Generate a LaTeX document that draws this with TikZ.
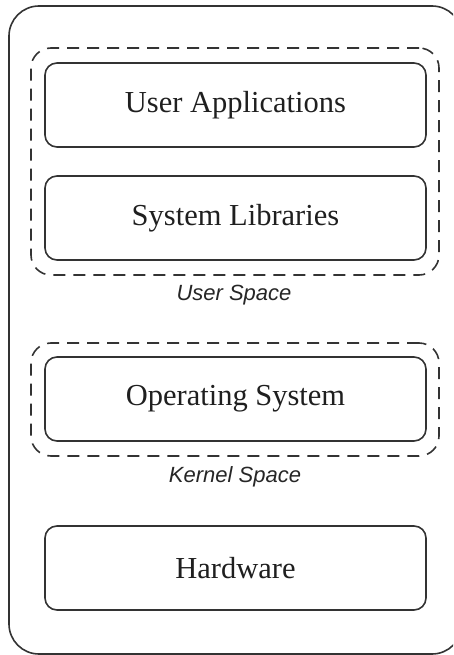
\documentclass[tikz,border=0pt]{standalone}
\usepackage{fontspec}
\setmainfont{Liberation Serif}
\newfontfamily\labelfont{Liberation Sans}
\begin{document}
\begin{tikzpicture}[x=1pt,y=-1pt,
  line color/.style={draw=black!80},
  layerbox/.style={line color, line width=1.6pt, rounded corners=12pt,
    minimum width=381pt, minimum height=84pt, inner sep=0pt,
    text=black!88, font=\fontsize{30.5}{36}\selectfont},
  spacebox/.style={line color, line width=1.6pt, dash pattern=on 12pt off 8pt,
    rounded corners=20pt, inner sep=0pt},
  spacelabel/.style={text=black!85, font=\labelfont\itshape\fontsize{22}{26}\selectfont, inner sep=0pt}]
\useasboundingbox (0,0) rectangle (453,655);
\clip (0,0) rectangle (453,655);

% enclosing frame
\draw[line color, line width=1.6pt, rounded corners=30pt] (9,6) rectangle (462,654);

% user space group
\node[spacebox, minimum width=408pt, minimum height=227pt] (user) at (235,161.5) {};
\node[layerbox] (apps) at (235.5,105) {User Applications};
\node[layerbox] (libs) at (235.5,218) {System Libraries};
\node[spacelabel] (userlbl) at (234,295) {User Space};

% kernel space group
\node[spacebox, minimum width=408pt, minimum height=113pt] (kernel) at (235,399.5) {};
\node[layerbox] (os) at (235.5,399) {Operating System};
\node[spacelabel] (kernlbl) at (235,477) {Kernel Space};

% hardware layer
\node[layerbox] (hw) at (235.5,568) {Hardware};
\end{tikzpicture}
\end{document}
